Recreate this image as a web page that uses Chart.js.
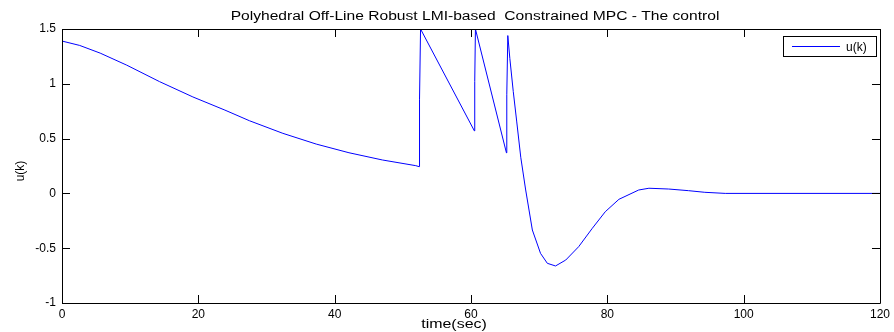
<!DOCTYPE html>
<html>
<head>
<meta charset="utf-8">
<script src="https://cdn.jsdelivr.net/npm/chart.js@4"></script>
<style>
  html, body { margin: 0; padding: 0; background: #fff; }
  #wrap { width: 894px; height: 332px; }
</style>
</head>
<body>
<div id="wrap"><canvas id="uChart" width="894" height="332"></canvas></div>
<script>
// values
const timeValues = [
  0, 2.6, 5.6, 9.5, 14.3, 19.2, 23.9, 27.5, 32.4, 37.3, 42.1, 47.0, 51.9, 52.4,
  52.45, 52.6, 60.5, 60.55, 60.65, 65.2, 65.25, 65.4, 65.7, 66.2, 66.7, 67.3,
  68.0, 69.0, 70.2, 71.2, 72.4, 73.9, 75.8, 77.8, 79.7, 81.7, 84.6, 86.1, 89.0,
  91.9, 94.3, 97.3, 120
];
const controlValues = [
  1.39, 1.35, 1.28, 1.17, 1.02, 0.88, 0.76, 0.663, 0.548, 0.45, 0.371, 0.305, 0.253, 0.244,
  0.86, 1.5, 0.57, 1.02, 1.5, 0.37, 0.90, 1.44, 1.23, 0.93, 0.66, 0.33,
  0.04, -0.334, -0.547, -0.638, -0.662, -0.608, -0.486, -0.318, -0.167, -0.054, 0.031, 0.047, 0.04,
  0.025, 0.01, 0.0, 0.0
];
const xTicks = [0, 20, 40, 60, 80, 100, 120];
const yTicks = [-1, -0.5, 0, 0.5, 1, 1.5];

const titleText = 'Polyhedral Off-Line Robust LMI-based  Constrained MPC - The control';
const xLabel = 'time(sec)';
const yLabel = 'u(k)';

const FONT = 'Liberation Sans, Arial, Helvetica, sans-serif';

const points = timeValues.map((t, i) => ({ x: t, y: controlValues[i] }));

// text in the reference is a bit wider than normal, so stretch it sideways
function wideText(ctx, text, cx, cy, stretch) {
    ctx.save();
    ctx.translate(cx, cy);
    ctx.scale(stretch, 1);
    ctx.textAlign = 'center';
    ctx.textBaseline = 'middle';
    ctx.fillText(text, 0, 0);
    ctx.restore();
}

// matlab style box with inward ticks, titles and the boxed legend
const matlabAxes = {
    id: 'matlabAxes',
    afterDraw(chart) {
        const { ctx, chartArea: a, scales } = chart;
        const tick = 8;
        ctx.save();
        ctx.strokeStyle = '#000';
        ctx.lineWidth = 1;
        ctx.beginPath();
        ctx.rect(Math.round(a.left) + 0.5, Math.round(a.top) + 0.5,
                 Math.round(a.right - a.left), Math.round(a.bottom - a.top));
        scales.x.ticks.forEach(t => {
            const px = Math.round(scales.x.getPixelForValue(t.value)) + 0.5;
            ctx.moveTo(px, a.bottom); ctx.lineTo(px, a.bottom - tick);
            ctx.moveTo(px, a.top); ctx.lineTo(px, a.top + tick);
        });
        scales.y.ticks.forEach(t => {
            const py = Math.round(scales.y.getPixelForValue(t.value)) + 0.5;
            ctx.moveTo(a.left, py); ctx.lineTo(a.left + tick, py);
            ctx.moveTo(a.right, py); ctx.lineTo(a.right - tick, py);
        });
        ctx.stroke();

        ctx.fillStyle = '#000';
        ctx.font = '12px ' + FONT;
        wideText(ctx, titleText, 475, 17, 1.3);
        wideText(ctx, xLabel, 454, 325, 1.33);

        ctx.save();
        ctx.translate(21, 171);
        ctx.rotate(-Math.PI / 2);
        ctx.textAlign = 'center';
        ctx.textBaseline = 'middle';
        ctx.fillText(yLabel, 0, 0);
        ctx.restore();

        // legend
        const ds = chart.data.datasets[0];
        const bx = 783.5, by = 36.5, bw = 93, bh = 20;
        ctx.fillStyle = '#fff';
        ctx.fillRect(bx, by, bw, bh);
        ctx.strokeRect(bx, by, bw, bh);
        ctx.strokeStyle = ds.borderColor;
        ctx.beginPath();
        ctx.moveTo(792, by + bh / 2);
        ctx.lineTo(840, by + bh / 2);
        ctx.stroke();
        ctx.fillStyle = '#000';
        ctx.textBaseline = 'middle';
        ctx.fillText(ds.label, 846, by + bh / 2 + 1);
        ctx.restore();
    }
};

new Chart(document.getElementById('uChart'), {
    type: 'line',
    data: {
        datasets: [{
            label: 'u(k)',
            data: points,
            borderColor: '#0000ff',
            borderWidth: 1,
            pointRadius: 0,
            tension: 0,
            fill: false
        }]
    },
    options: {
        responsive: false,
        animation: false,
        layout: { padding: { top: 29, right: 12, left: 0, bottom: 0 } },
        plugins: {
            legend: { display: false },
            tooltip: { enabled: false },
            title: { display: false }
        },
        scales: {
            x: {
                type: 'linear',
                min: 0,
                max: 120,
                afterBuildTicks: s => { s.ticks = xTicks.map(v => ({ value: v })); },
                afterFit: s => { s.height = 29; },
                grid: { display: false, drawTicks: false },
                border: { display: false },
                ticks: { color: '#000', padding: 4, font: { family: FONT, size: 12 } }
            },
            y: {
                type: 'linear',
                min: -1,
                max: 1.5,
                afterBuildTicks: s => { s.ticks = yTicks.map(v => ({ value: v })); },
                afterFit: s => { s.width = 62; },
                grid: { display: false, drawTicks: false },
                border: { display: false },
                ticks: {
                    color: '#000',
                    padding: 6,
                    font: { family: FONT, size: 12 },
                    callback: v => String(v)
                }
            }
        }
    },
    plugins: [matlabAxes]
});
</script>
</body>
</html>
